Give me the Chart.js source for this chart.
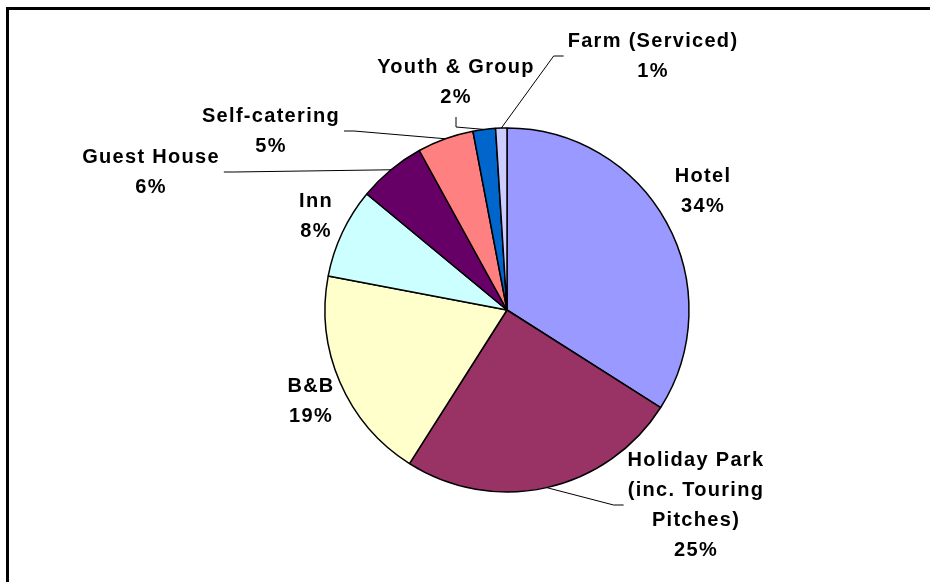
<!DOCTYPE html>
<html>
<head>
<meta charset="utf-8">
<script src="https://cdn.jsdelivr.net/npm/chart.js@4.4.1/dist/chart.umd.min.js"></script>
<style>
  html, body { margin: 0; padding: 0; background: #fff; overflow: hidden; }
  #wrap { position: relative; width: 930px; height: 582px; }
  /* outer frame, right and bottom edges run off the page */
  #frame {
    position: absolute; left: 6px; top: 7px; width: 1000px; height: 700px;
    border-top: 3px solid #000; border-left: 3px solid #000;
  }
  #pieChart { position: absolute; left: 0; top: 0; }
</style>
</head>
<body>
<div id="wrap">
  <div id="frame"></div>
  <canvas id="pieChart" width="930" height="582"></canvas>
</div>
<script>
// Categorias (etiquetas de varias lineas como arrays)
const categories = [
  'Hotel',
  ['Holiday Park', '(inc. Touring', 'Pitches)'],
  'B&B',
  'Inn',
  'Guest House',
  'Self-catering',
  'Youth & Group',
  'Farm (Serviced)'
];

// Porcentaje de cada tipo de alojamiento
const shares = [34, 25, 19, 8, 6, 5, 2, 1];

// Colores de cada sector
const sliceColors = [
  '#9999FF', '#993366', '#FFFFCC', '#CCFFFF',
  '#660066', '#FF8080', '#0066CC', '#CCCCFF'
];

// Posicion de cada etiqueta respecto al centro del pastel y tipo de linea guia
const labelPlace = [
  { dx: 196, dy: -119, leader: null },
  { dx: 189, dy: 195, leader: 'left' },
  { dx: -196, dy: 91, leader: null },
  { dx: -191, dy: -94, leader: null },
  { dx: -356, dy: -138, leader: 'right' },
  { dx: -236, dy: -179, leader: 'right' },
  { dx: -51, dy: -228, leader: 'below' },
  { dx: 146, dy: -254, leader: 'left' }
];

const LINE_H = 30;

// Plugin: texto de cada sector con su porcentaje y lineas guia
const sliceLabels = {
  id: 'sliceLabels',
  afterDatasetsDraw(chart) {
    const ctx = chart.ctx;
    const meta = chart.getDatasetMeta(0);
    const values = chart.data.datasets[0].data;
    ctx.save();
    ctx.font = 'bold 20px "Liberation Sans", Arial, sans-serif';
    ctx.letterSpacing = '1.3px';
    ctx.fillStyle = '#000';
    ctx.strokeStyle = '#000';
    ctx.lineWidth = 1;
    ctx.textAlign = 'center';
    ctx.textBaseline = 'middle';

    meta.data.forEach((arc, i) => {
      const p = arc.getProps(['x', 'y', 'startAngle', 'endAngle', 'outerRadius'], true);
      const mid = (p.startAngle + p.endAngle) / 2;
      const ax = p.x + Math.cos(mid) * p.outerRadius;
      const ay = p.y + Math.sin(mid) * p.outerRadius;

      const place = labelPlace[i];
      const lines = [].concat(chart.data.labels[i], values[i] + '%');
      const cx = p.x + place.dx;
      const cy = p.y + place.dy;
      const h = lines.length * LINE_H;
      const w = Math.max(...lines.map(t => ctx.measureText(t).width));

      if (place.leader) {
        let ex, ey, kx, ky;
        if (place.leader === 'left') {
          ex = cx - w / 2 - 4; ey = cy; kx = ex - 10; ky = ey;
        } else if (place.leader === 'right') {
          ex = cx + w / 2 + 4; ey = cy; kx = ex + 10; ky = ey;
        } else {
          ex = cx; ey = cy + h / 2 + 5; kx = ex; ky = ey + 10;
        }
        ctx.beginPath();
        ctx.moveTo(ax, ay);
        ctx.lineTo(kx, ky);
        ctx.lineTo(ex, ey);
        ctx.stroke();
      }

      lines.forEach((t, k) => {
        ctx.fillText(t, cx, cy - h / 2 + LINE_H * (k + 0.5));
      });
    });
    ctx.restore();
  }
};

const ctx = document.getElementById('pieChart').getContext('2d');

const pieChart = new Chart(ctx, {
  type: 'pie',
  data: {
    labels: categories,
    datasets: [{
      data: shares,
      backgroundColor: sliceColors,
      borderColor: '#000',
      borderWidth: 1.5,
      radius: 182
    }]
  },
  options: {
    responsive: false,
    devicePixelRatio: 1,
    animation: false,
    layout: {
      padding: { left: 84, right: 0, top: 38, bottom: 0 }
    },
    plugins: {
      legend: { display: false },
      tooltip: { enabled: false }
    }
  },
  plugins: [sliceLabels]
});
</script>
</body>
</html>
